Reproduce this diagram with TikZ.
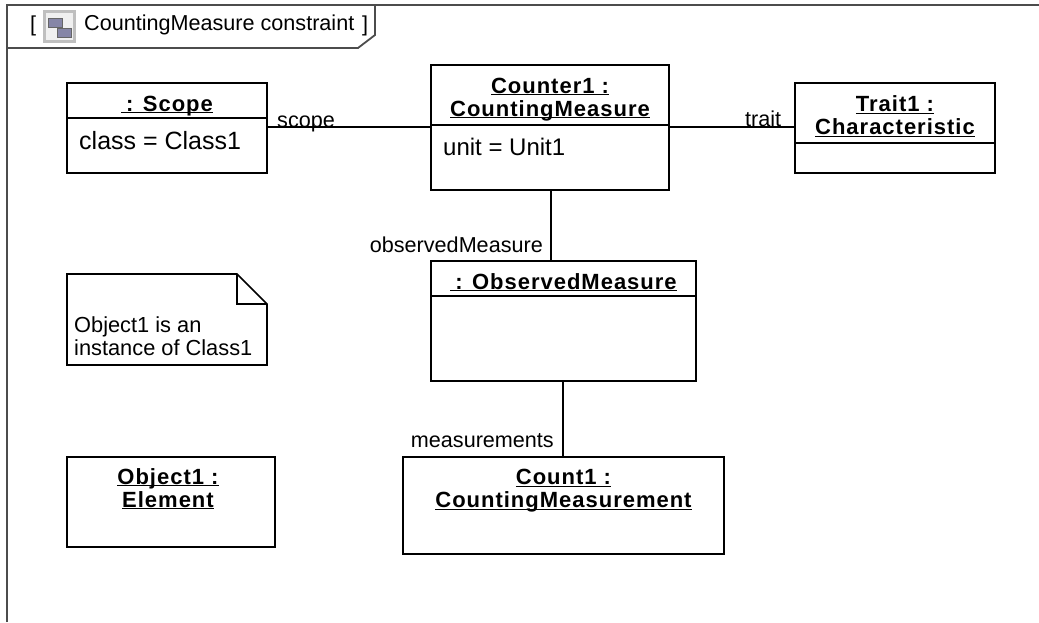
\documentclass[tikz,border=0pt]{standalone}
\usepackage{fontspec}
\setmainfont{Liberation Sans}
\newfontfamily\headfont[LetterSpace=4.5]{Liberation Sans}
\newcommand{\ulname}[1]{\underline{\smash{#1}\vphantom{T}}}
\tikzset{
  x=1pt,y=-1pt,
  line/.style={draw=black,line width=1.6pt},
  umlbox/.style={line,fill=white,anchor=north west,inner sep=0pt,outer sep=0pt},
  head/.style={font=\headfont\fontsize{22}{23}\selectfont\bfseries,align=center,inner sep=0pt},
  body/.style={font=\fontsize{24}{28}\selectfont,anchor=west,inner sep=0pt},
  role/.style={font=\fontsize{21.6}{26}\selectfont,inner sep=0pt},
  framel/.style={draw=black!70,line width=1.8pt},
  iconblock/.style={draw=black!60,fill=black!25!blue!25!white!70!black,line width=1pt,minimum width=14pt,minimum height=9pt,inner sep=0pt},
}
\begin{document}
\begin{tikzpicture}
\useasboundingbox (0,0) rectangle (1039,622);
% frame
\coordinate (fbl) at (7,622);
\coordinate (ftl) at (7,5);
\coordinate (ftr) at (1039,5);
\coordinate (t1) at (7,48);
\coordinate (t2) at (358,48);
\coordinate (t3) at (375,35);
\coordinate (t4) at (375,5);
\draw[framel] (fbl) -- (ftl) -- (ftr);
\draw[framel] (t1) -- (t2) -- (t3) -- (t4);
\node[font=\fontsize{21.6}{26}\selectfont,inner sep=0pt] (lb) at (33,26) {[};
\node[font=\fontsize{21.6}{26}\selectfont,inner sep=0pt] (rb) at (365,26) {]};
\node[font=\fontsize{21.6}{26}\selectfont,anchor=west,inner sep=0pt] (ftitle) at (84,25) {CountingMeasure constraint};
% icon
\node[fill=black!25,minimum width=33pt,minimum height=33pt,inner sep=0pt,outer sep=0pt] (icon) at (59,26) {};
\node[fill=black!6,minimum width=27pt,minimum height=27pt,inner sep=0pt] (iconin) at (59,26) {};
\node[iconblock] (icona) at (55.5,22.5) {};
\node[iconblock] (iconb) at (64,32.5) {};
% boxes
\node[umlbox,minimum width=200pt,minimum height=90pt] (scope) at (67,83) {};
\node[umlbox,minimum width=238pt,minimum height=125pt] (counter) at (431,65) {};
\node[umlbox,minimum width=200pt,minimum height=90pt] (trait) at (795,83) {};
\node[umlbox,minimum width=265pt,minimum height=120pt] (observed) at (431,261) {};
\node[umlbox,minimum width=321pt,minimum height=97pt] (count) at (403,457) {};
\node[umlbox,minimum width=208pt,minimum height=90pt] (object) at (67,457) {};
% dividers
\draw[line] (67,118) -- (267,118);
\draw[line] (431,125) -- (669,125);
\draw[line] (795,143) -- (995,143);
\draw[line] (431,296) -- (696,296);
% connectors
\draw[line] ([yshift=1pt]scope.east) -- ([yshift=1pt]scope.east -| counter.west);
\draw[line] ([yshift=1pt]trait.west -| counter.east) -- ([yshift=1pt]trait.west);
\draw[line] ([xshift=1pt]counter.south) -- ([xshift=1pt]counter.south |- observed.north);
\draw[line] ([xshift=-0.5pt]observed.south) -- ([xshift=-0.5pt]observed.south |- count.north);
% texts
\node[head] (scopeh) at (167,104.5) {\ulname{\hspace{5pt}: Scope}};
\node[body,font=\fontsize{25}{28}\selectfont] (scopeb) at (79,140.5) {class = Class1};
\node[head] (counterh) at (550,98) {\ulname{Counter1 :}\\\ulname{CountingMeasure}};
\node[body] (counterb) at (443,146.5) {unit = Unit1};
\node[head] (traith) at (895,116.5) {\ulname{Trait1 :}\\\ulname{Characteristic}};
\node[head] (obsh) at (563.5,282.5) {\ulname{\hspace{5pt}: ObservedMeasure}};
\node[head] (counth) at (563.5,489.5) {\ulname{Count1 :}\\\ulname{CountingMeasurement}};
\node[head] (objh) at (168,489) {\ulname{Object1 :}\\\ulname{Element}};
\node[role,anchor=base west] (rscope) at (277,127) {scope};
\node[role,anchor=base west] (rtrait) at (745,126) {trait};
\node[role,anchor=base east] (robs) at (543,252) {observedMeasure};
\node[role,anchor=base east] (rmeas) at (554,447) {measurements};
% note
\coordinate (n1) at (67,274);
\coordinate (n2) at (237,274);
\coordinate (n3) at (267,304);
\coordinate (n4) at (267,365);
\coordinate (n5) at (67,365);
\coordinate (n6) at (237,304);
\draw[line,line join=miter] (n1) -- (n2) -- (n3) -- (n4) -- (n5) -- cycle;
\draw[line] (n2) -- (n6) -- (n3);
\node[font=\fontsize{21.8}{23.5}\selectfont,align=left,anchor=north west,inner sep=0pt] (notet) at (74,316) {Object1 is an\\instance of Class1};
\end{tikzpicture}
\end{document}
